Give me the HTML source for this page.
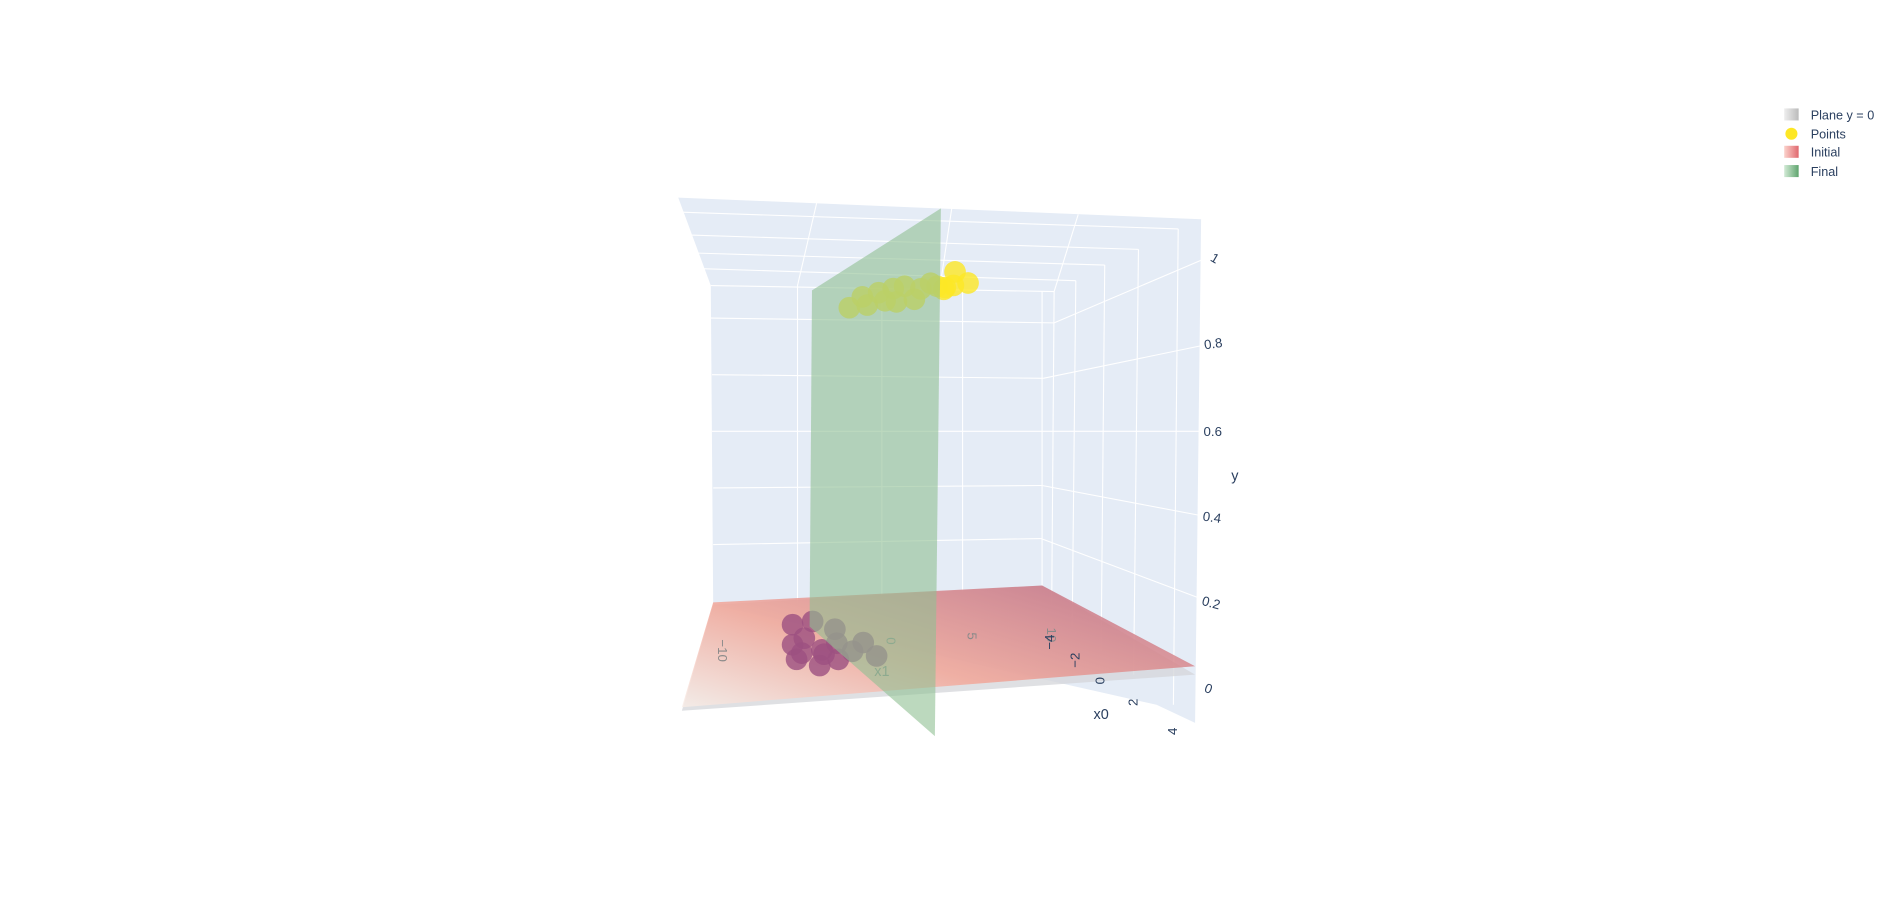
<!DOCTYPE html>
<html><head><meta charset="utf-8"><style>
html,body{margin:0;padding:0;background:#fff;}
svg{display:block;font-family:"Liberation Sans",sans-serif;}
</style></head><body>
<svg width="1889" height="912" viewBox="0 0 1568 757" preserveAspectRatio="none" xmlns="http://www.w3.org/2000/svg">
<defs>
<linearGradient id="pinkG" x1="0" y1="1" x2="1" y2="0.2">
<stop offset="0" stop-color="#f8eee8"/><stop offset="0.45" stop-color="#f3a394"/><stop offset="1" stop-color="#c26a7e"/>
</linearGradient>
<linearGradient id="lgG" x1="0" x2="1"><stop offset="0" stop-color="#eee"/><stop offset="1" stop-color="#bbb"/></linearGradient>
<linearGradient id="lgP" x1="0" x2="1"><stop offset="0" stop-color="#fbd3cc"/><stop offset="1" stop-color="#e0686e"/></linearGradient>
<linearGradient id="lgF" x1="0" x2="1"><stop offset="0" stop-color="#d2ead6"/><stop offset="1" stop-color="#5fa56e"/></linearGradient>
</defs>
<g>
<polygon points="563,164 997,182 992,600 960,585 592,502 590,237" fill="#e5ecf6"/>
</g>
<g stroke="#fff" stroke-width="0.9" fill="none">
<line x1="563" y1="176" x2="978" y2="190"/><line x1="570" y1="195" x2="945" y2="207"/>
<line x1="576" y1="210" x2="917" y2="220"/><line x1="583" y1="223" x2="893" y2="233"/>
<line x1="590" y1="237" x2="875" y2="242"/>
<line x1="678" y1="168" x2="662" y2="237"/><line x1="790" y1="173" x2="780" y2="240"/>
<line x1="895" y1="178" x2="875" y2="242"/>
<line x1="590" y1="264" x2="875" y2="268"/><line x1="591" y1="311" x2="866" y2="314"/>
<line x1="591" y1="358" x2="865" y2="358"/><line x1="592" y1="405" x2="865" y2="403"/>
<line x1="592" y1="452" x2="864" y2="447"/>
<line x1="875" y1="268" x2="997" y2="216"/><line x1="866" y1="314" x2="997" y2="287"/>
<line x1="865" y1="358" x2="997" y2="358"/><line x1="865" y1="403" x2="997" y2="428"/>
<line x1="864" y1="447" x2="997" y2="497"/>
<line x1="662" y1="237" x2="662" y2="500"/><line x1="732" y1="240" x2="732" y2="498"/>
<line x1="799" y1="240" x2="799" y2="492"/><line x1="865" y1="242" x2="865" y2="486"/>
<line x1="875" y1="242" x2="873" y2="500"/>
<line x1="893" y1="233" x2="890" y2="520"/><line x1="917" y1="220" x2="914" y2="540"/>
<line x1="945" y1="207" x2="941" y2="560"/><line x1="978" y1="190" x2="974" y2="585"/>
</g>
<polygon points="592,502 865,486 992,560 566,590" fill="#d4d6da" opacity="0.75"/>
<polygon points="592,500 865,486 992,553 566,587" fill="url(#pinkG)" opacity="0.8"/>
<g fill="#8a8a8a" font-size="11">
<text transform="translate(596,540) rotate(90)" text-anchor="middle">−10</text>
<text transform="translate(736,532) rotate(90)" text-anchor="middle">0</text>
<text transform="translate(803,528) rotate(90)" text-anchor="middle">5</text>
<text transform="translate(869,527) rotate(90)" text-anchor="middle">10</text>
<text x="732" y="561" font-size="12" text-anchor="middle">x1</text>
</g>
<g id="points"></g>
<polygon points="674,241 781,173 776,611 672,520" fill="#8fbf93" opacity="0.6"/>
<g fill="#2a3f5f" font-size="11">
<text transform="translate(875,533) rotate(-90)" text-anchor="middle">−4</text>
<text transform="translate(896,548) rotate(-90)" text-anchor="middle">−2</text>
<text transform="translate(917,565) rotate(-90)" text-anchor="middle">0</text>
<text transform="translate(944,583) rotate(-90)" text-anchor="middle">2</text>
<text transform="translate(977,607) rotate(-90)" text-anchor="middle">4</text>
<text x="914" y="597" font-size="12" text-anchor="middle">x0</text>
</g>
<g fill="#2a3f5f" font-size="11">
<text transform="translate(1004,216) rotate(30)">1</text>
<text transform="translate(1000,290) rotate(-8)">0.8</text>
<text x="999" y="362">0.6</text>
<text transform="translate(998,432) rotate(8)">0.4</text>
<text transform="translate(997,502) rotate(15)">0.2</text>
<text transform="translate(999,574) rotate(20)">0</text>
<text x="1022" y="399" font-size="12">y</text>
</g>
<g font-size="10.5" fill="#2a3f5f">
<g><rect x="1481" y="90" width="12" height="10" fill="url(#lgG)"/><text x="1503" y="99">Plane y = 0</text></g>
<g><circle cx="1487" cy="111" r="5" fill="#fde725"/><text x="1503" y="115">Points</text></g>
<g><rect x="1481" y="121" width="12" height="10" fill="url(#lgP)"/><text x="1503" y="130">Initial</text></g>
<g><rect x="1481" y="137" width="12" height="10" fill="url(#lgF)"/><text x="1503" y="146">Final</text></g>
</g>
</svg>
<script>
const yellowX1=[-2,-1.2,-0.9,-0.2,0.2,0.7,0.9,1.4,2,2.4,3,3.4,3.9,4.5,4.4,5.3,3.8];
const yellowX0=[0,0,0,0,0,0,0,0,0,0,0,0,0,0,0,0,0];
const yellowY=[0.95,0.98,0.955,0.99,0.965,1.0,0.96,1.005,0.965,0.995,1.01,1.0,0.995,1.04,1.0,1.005,0.99];
const purpleX1=[-5.6,-4.3,-3.2,-6.2,-5.3,-4.6,-3.5,-1.9,-6.4,-5.2,-3.9,-2.8,-1.5,-5.9,-4.6];
const purpleX0=[0.5,0.2,1.4,3.2,2.4,4.1,3.3,3.4,5.2,6.2,5.5,4.5,5.3,4.4,4.7];
const purpleY=[0.03,0.03,0.03,0.03,0.03,0.03,0.03,0.03,0.03,0.03,0.03,0.03,0.03,0.03,0.03];
function sx(x1,x0){return 732+13.5*x1+3*x0;}
function sy(x1,x0,y){return 520-0.7*x1+6*x0-280*y;}
const g=document.getElementById('points');
function draw(X1,X0,Y,color){
  for(let i=0;i<X1.length;i++){
    const c=document.createElementNS('http://www.w3.org/2000/svg','circle');
    c.setAttribute('cx',sx(X1[i],X0[i]));
    c.setAttribute('cy',sy(X1[i],X0[i],Y[i]));
    c.setAttribute('r',9);
    c.setAttribute('fill',color);
    c.setAttribute('opacity',0.8);
    
    
    g.appendChild(c);
  }
}
draw(purpleX1,purpleX0,purpleY,'#9c5081');
draw(yellowX1,yellowX0,yellowY,'#fde725');
</script>
</body></html>
